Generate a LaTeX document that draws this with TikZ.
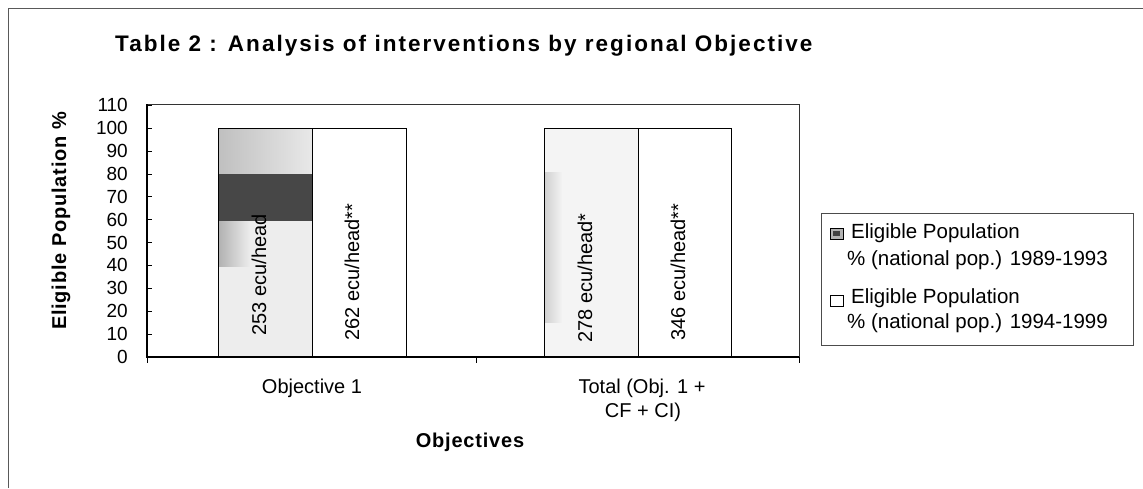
\documentclass[tikz,border=0pt]{standalone}
\usepackage{fontspec}
\setmainfont{Liberation Sans}
\newfontfamily\titlefont[LetterSpace=9]{Liberation Sans}
\newfontfamily\labfont[LetterSpace=4]{Liberation Sans}
\begin{document}
\begin{tikzpicture}[x=1pt,y=-1pt,
  frame/.style={draw=black!65,line width=0.8pt},
  barbox/.style={draw=black,line width=1pt},
  ticklab/.style={anchor=east,inner sep=0pt,font=\fontsize{19}{19}\selectfont},
  barlab/.style={rotate=90,inner sep=0pt,font=\fontsize{20}{20}\selectfont},
  catlab/.style={inner sep=0pt,align=center,font=\fontsize{20}{24}\selectfont},
  legtext/.style={anchor=base west,inner sep=0pt,font=\fontsize{20.5}{20.5}\selectfont}]
\useasboundingbox (0,0) rectangle (1143,488);
% outer frame
\draw[frame] (8,488) -- (8,8) -- (1143,8);
% title
\node[anchor=base west,inner sep=0pt,font=\titlefont\bfseries\fontsize{22.5}{22.5}\selectfont] (title) at (115,51) {Table 2 : Analysis of interventions by regional Objective};
% plot area
\draw[draw=black!80,line width=0.8pt] (147,104) rectangle (799,357);
% bars: Objective 1, 1989-1993 (shaded)
\fill[gray!14] (218,128) rectangle (312,357);
\shade[left color=gray!50,right color=gray!18] (218,128) rectangle (312,174);
\shade[left color=gray!62,right color=gray!14] (218,221) rectangle (250,266);
\fill[black!72] (218,174) rectangle (312,221);
\draw[barbox] (218,128) rectangle (312,357);
% Objective 1, 1994-1999
\draw[barbox,fill=white] (312,128) rectangle (406,357);
% Total, 1989-1993
\fill[gray!9] (544,128) rectangle (638,357);
\shade[left color=gray!38,right color=gray!9] (544,172) rectangle (562,322);
\draw[barbox] (544,128) rectangle (638,357);
% Total, 1994-1999
\draw[barbox,fill=white] (638,128) rectangle (731,357);
% axes
\draw[line width=1.1pt] (147,104) -- (147,357) -- (799,357);
\foreach \v in {0,10,...,110}{
  \pgfmathsetmacro{\yy}{357-2.29*\v}
  \draw[line width=0.6pt] (147,\yy) -- (152,\yy);
  \node[ticklab] (tick\v) at (128,\yy) {\v};
}
\foreach \xx in {147,476,799}{
  \draw[line width=0.6pt] (\xx,357) -- (\xx,363);
}
% bar labels
\node[barlab] (l1) at (259,275) {253 ecu/head};
\node[barlab] (l2) at (352,272) {262 ecu/head**};
\node[barlab] (l3) at (585,278) {278 ecu/head*};
\node[barlab] (l4) at (678,272) {346 ecu/head**};
% category labels
\node[catlab,anchor=base] (c1) at (312,393) {Objective 1};
\node[catlab,anchor=base] (c2a) at (642,393) {Total (Obj. 1 +};
\node[catlab,anchor=base] (c2b) at (643,417) {CF + CI)};
\node[anchor=base,inner sep=0pt,font=\labfont\bfseries\fontsize{20}{20}\selectfont] (xtitle) at (470,447) {Objectives};
\node[rotate=90,inner sep=0pt,font=\labfont\bfseries\fontsize{20}{20}\selectfont] (ytitle) at (61,221) {Eligible Population \%};
% legend
\draw[draw=black!70,line width=0.8pt] (821,213) rectangle (1133,345);
\draw[fill=gray!60,line width=0.7pt] (830,228) rectangle (843,239);
\fill[black!75] (833,231) rectangle (840,236);
\draw[fill=white,line width=0.8pt] (830,295) rectangle (843,306);
\node[legtext] (g1) at (851,238) {Eligible Population};
\node[legtext] (g2) at (847,265) {\% (national pop.) 1989-1993};
\node[legtext] (g3) at (851,303) {Eligible Population};
\node[legtext] (g4) at (847,328) {\% (national pop.) 1994-1999};
\end{tikzpicture}
\end{document}
